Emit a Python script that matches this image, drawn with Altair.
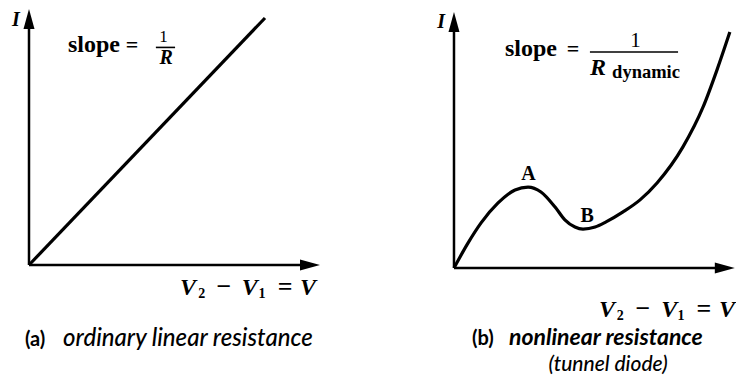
import altair as alt
import pandas as pd

SERIF = "Liberation Serif"
SANS = "Lato"

# ---------------- data (V, I in arbitrary units) ----------------
# (a) ordinary linear resistance: straight line through origin
a_line_V = [0.0, 8.11]
a_line_I = [0.0, 9.65]
a_axis_tip = [10.0, 10.0]      # extent of V axis, I axis (arrow tips)

# (b) nonlinear resistance (tunnel diode): I-V curve with peak A and valley B
b_curve_V = [0.0, 0.49, 0.94, 1.53, 2.12, 2.57, 3.02, 3.51, 3.85, 4.20,
             4.48, 4.90, 5.28, 5.87, 6.46, 7.05, 7.95, 8.65, 9.13, 9.58]
b_curve_I = [0.0, 0.98, 1.76, 2.54, 3.05, 3.16, 2.97, 2.38, 1.88, 1.60,
             1.52, 1.60, 1.80, 2.19, 2.66, 3.32, 4.73, 6.29, 7.73, 9.22]
b_axis_tip = [9.75, 10.0]

# scale domains that place each panel's axes inside the common drawing
a_xdom, a_ydom = [-0.7216, 24.296], [-4.297, 10.04]
b_xdom, b_ydom = [-15.486, 9.792], [-4.18, 10.156]

UP = "M0,0L-1.1,4L1.1,4Z"
RIGHT = "M0,0L-4,-1.1L-4,1.1Z"


def panel(xdom, ydom, tips, line_df, texts, bar):
    xs = alt.Scale(domain=xdom, nice=False, zero=False)
    ys = alt.Scale(domain=ydom, nice=False, zero=False)

    def X(f):
        return alt.X(f, type="quantitative", scale=xs, axis=None)

    def Y(f):
        return alt.Y(f, type="quantitative", scale=ys, axis=None)

    tx_, ty_ = tips
    axes_df = pd.DataFrame({"x": [0.0, 0.0], "y": [0.0, 0.0],
                            "x2": [tx_ - 0.5, 0.0], "y2": [0.0, ty_ - 0.5]})
    axes = alt.Chart(axes_df).mark_rule(color="black", strokeWidth=2.5).encode(
        x=X("x"), y=Y("y"), x2="x2", y2="y2")

    up = alt.Chart(pd.DataFrame({"x": [0.0], "y": [ty_]})).mark_point(
        shape=UP, size=100, filled=True, color="black", opacity=1, strokeWidth=0
    ).encode(x=X("x"), y=Y("y"))
    right = alt.Chart(pd.DataFrame({"x": [tx_], "y": [0.0]})).mark_point(
        shape=RIGHT, size=100, filled=True, color="black", opacity=1, strokeWidth=0
    ).encode(x=X("x"), y=Y("y"))

    curve = alt.Chart(line_df).mark_line(
        color="black", strokeWidth=3.2, interpolate="monotone"
    ).encode(x=X("V"), y=Y("I"), order="k")

    bar_df = pd.DataFrame({"x": [bar[0]], "x2": [bar[1]], "y": [bar[2]]})
    frac = alt.Chart(bar_df).mark_rule(color="black", strokeWidth=1.6).encode(
        x=X("x"), x2="x2", y=Y("y"))

    layers = [axes, curve, up, right, frac]
    for (px, py, s, size, weight, style, align, font) in texts:
        df = pd.DataFrame({"x": [px], "y": [py], "t": [s]})
        layers.append(
            alt.Chart(df).mark_text(
                font=font, fontSize=size, fontWeight=weight, fontStyle=style,
                align=align, baseline="alphabetic", color="black"
            ).encode(x=X("x"), y=Y("y"), text="t")
        )
    return layers


a_df = pd.DataFrame({"V": a_line_V, "I": a_line_I, "k": range(len(a_line_V))})
b_df = pd.DataFrame({"V": b_curve_V, "I": b_curve_I, "k": range(len(b_curve_V))})


def v_label(xs, base, sub):
    # pieces of "V2 - V1 = V" with bold subscripts
    t = ["V", "2", "\u2212", "V", "1", "=", "V"]
    out = []
    for x, s in zip(xs, t):
        if s in ("2", "1"):
            out.append((x, sub, s, 14, "bold", "normal", "center", SERIF))
        elif s == "V":
            out.append((x, base, s, 24, "bold", "italic", "center", SERIF))
        else:
            out.append((x, base, s, 26, "bold", "normal", "center", SERIF))
    return out


a_texts = [
    (-0.45, 9.34, "I", 20, "bold", "italic", "center", SERIF),
    (1.34, 8.32, "slope", 24, "bold", "normal", "left", SERIF),
    (3.54, 8.32, "=", 22, "bold", "normal", "center", SERIF),
    (4.62, 8.71, "1", 17, "normal", "normal", "center", SERIF),
    (4.71, 7.85, "R", 20, "bold", "italic", "center", SERIF),
    (-0.14, -3.16, "(a)", 20, "bold", "normal", "left", SANS),
    (1.17, -3.16, "ordinary linear resistance", 24, 500, "italic", "left", SANS),
] + v_label([5.46, 5.94, 6.70, 7.59, 8.01, 8.80, 9.59], -1.17, -1.29)

b_texts = [
    (-0.45, 9.375, "I", 20, "bold", "italic", "center", SERIF),
    (1.77, 8.28, "slope", 24, "bold", "normal", "left", SERIF),
    (4.13, 8.28, "=", 22, "bold", "normal", "center", SERIF),
    (6.30, 8.63, "1", 21, "normal", "normal", "center", SERIF),
    (4.72, 7.54, "R", 24, "bold", "italic", "left", SERIF),
    (5.49, 7.42, "dynamic", 18.5, "bold", "normal", "left", SERIF),
    (2.59, 3.44, "A", 20, "bold", "normal", "center", SERIF),
    (4.62, 1.80, "B", 20, "bold", "normal", "center", SERIF),
    (0.625, -3.01, "(b)", 20, "bold", "normal", "left", SANS),
    (1.91, -3.01, "nonlinear resistance", 23, "bold", "italic", "left", SANS),
    (5.35, -4.02, "(tunnel diode)", 21, 500, "italic", "center", SANS),
] + v_label([5.31, 5.77, 6.56, 7.47, 7.88, 8.68, 9.48], -1.91, -2.03)

layers = panel(a_xdom, a_ydom, a_axis_tip, a_df, a_texts, (4.36, 5.02, 8.50)) + \
    panel(b_xdom, b_ydom, b_axis_tip, b_df, b_texts, (4.72, 7.78, 8.44))

chart = alt.layer(*layers).resolve_scale(
    x="independent", y="independent"
).properties(
    width=728, height=367, padding=0, background="white",
    autosize=alt.AutoSizeParams(type="none"),
).configure_view(stroke=None)

chart.save("out.html", embed_options={"renderer": "svg", "actions": False})
